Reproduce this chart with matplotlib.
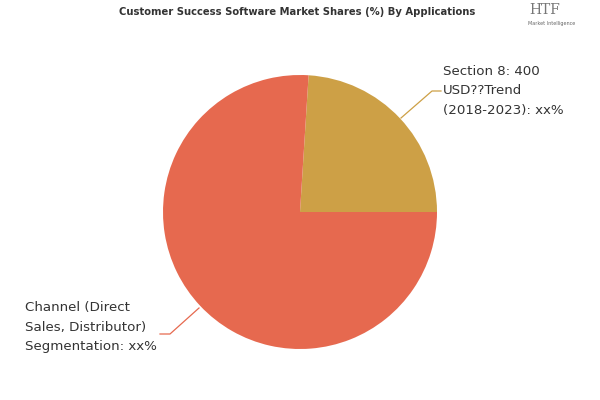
import matplotlib
matplotlib.use("Agg")
import matplotlib.pyplot as plt

categories = ["Section 8: 400\nUSD??Trend\n(2018-2023): xx%",
              "Channel (Direct\nSales, Distributor)\nSegmentation: xx%"]
values = [24, 76]
colors = ["#CDA046", "#E6694F"]
title = "Customer Success Software Market Shares (%) By Applications"

fig = plt.figure(figsize=(6, 4), dpi=100)
W, H = 600, 400
cx, cy, r = 300, 212, 137
ax = fig.add_axes([(cx - r) / W, (H - cy - r) / H, 2 * r / W, 2 * r / H])
wedges, _ = ax.pie(values, colors=colors, startangle=0, counterclock=True,
                   radius=1, wedgeprops=dict(linewidth=0))
ax.set_xlim(-1, 1)
ax.set_ylim(-1, 1)
ax.set_aspect("equal")
ax.axis("off")

def px(x, y):
    return ((x - cx) / r, (cy - y) / r)

p1, p2, p3 = px(401, 118), px(432, 91), px(441, 91)
ax.plot([p1[0], p2[0], p3[0]], [p1[1], p2[1], p3[1]], color=colors[0], lw=0.9, clip_on=False)
tx, ty = px(443, 91)
ax.text(tx, ty, categories[0], ha="left", va="center", fontsize=9.6,
        color="#333333", linespacing=1.65, clip_on=False)

q1, q2, q3 = px(199, 308), px(170, 334), px(160, 334)
ax.plot([q1[0], q2[0], q3[0]], [q1[1], q2[1], q3[1]], color=colors[1], lw=0.9, clip_on=False)
sx, sy = px(157, 327)
ax.text(sx, sy, categories[1], ha="right", va="center", fontsize=9.6,
        color="#333333", linespacing=1.65, clip_on=False, multialignment="left")

fig.text(297 / W, 1 - 12 / H, title, ha="center", va="center",
         fontsize=8.0, fontweight="bold", fontstretch="condensed",
         family="DejaVu Sans", color="#333333")

# logo
fig.text(545 / W, 1 - 10 / H, "HTF", ha="center", va="center", fontsize=10,
         family="DejaVu Serif", color="#777777")
fig.text(552 / W, 1 - 24 / H, "Market Intelligence", ha="center", va="center",
         fontsize=3.5, color="#666666")

fig.savefig("out.png", dpi=100, facecolor="white")
